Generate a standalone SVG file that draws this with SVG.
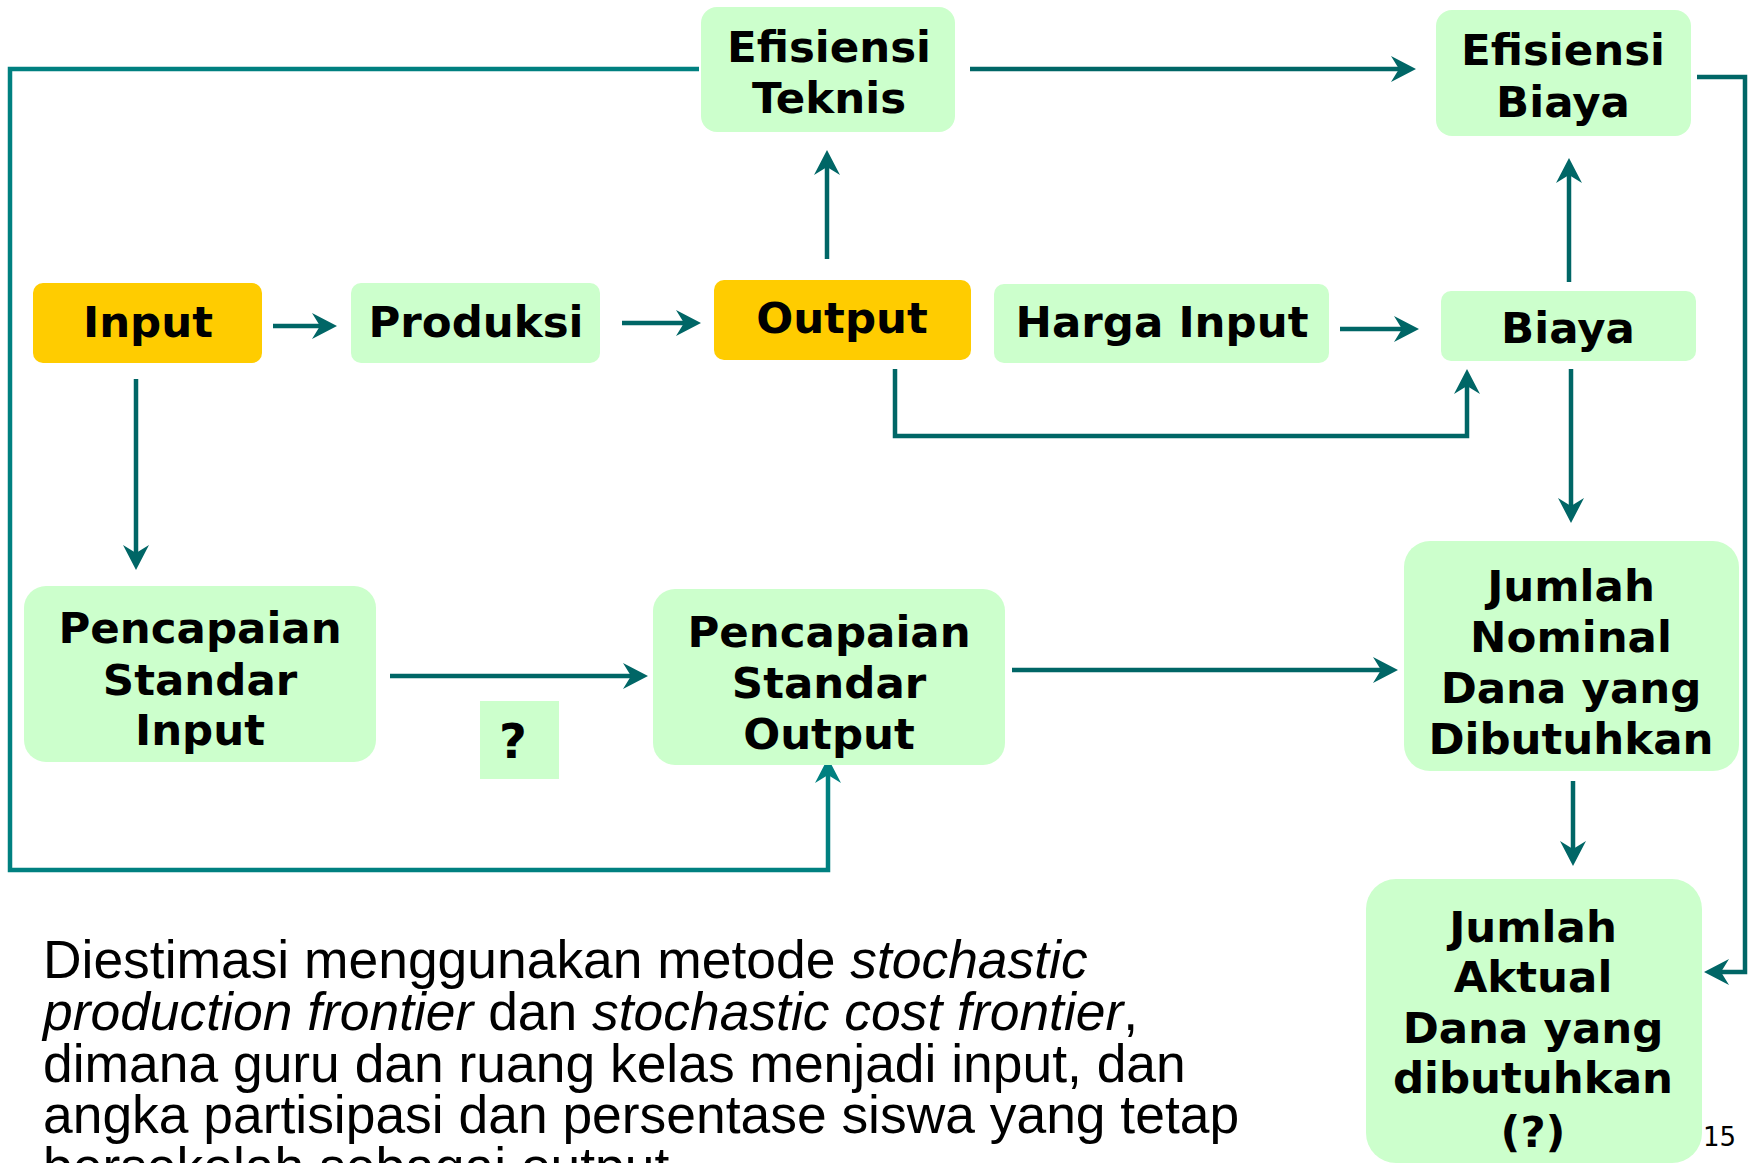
<svg xmlns="http://www.w3.org/2000/svg" width="1748" height="1163" viewBox="0 0 1748 1163">
<style>
.g{fill:#CCFFCC}
.y{fill:#FFCC00}
.t{font-family:"DejaVu Sans",Verdana,sans-serif;font-weight:bold;font-size:43.5px;fill:#000;text-anchor:middle}
.c{fill:none;stroke:#006666;stroke-width:4.5}
.c2{fill:none;stroke:#008080;stroke-width:4.5}
.body{font-family:"Liberation Sans",Arial,sans-serif;font-size:53.4px;fill:#000}
</style>
<defs>
<marker id="ah" markerUnits="userSpaceOnUse" viewBox="-12 -15 30 30" markerWidth="30" markerHeight="30" refX="0" refY="0" orient="auto">
<path d="M15,0 L-10,-13 L-2,0 L-10,13 Z" fill="#006666"/>
</marker>
<marker id="ah2" markerUnits="userSpaceOnUse" viewBox="-12 -15 30 30" markerWidth="30" markerHeight="30" refX="0" refY="0" orient="auto">
<path d="M15,0 L-10,-13 L-2,0 L-10,13 Z" fill="#008080"/>
</marker>
</defs>
<rect width="1748" height="1163" fill="#fff"/>
<g id="connectors">
<line class="c" x1="273" y1="326" x2="322" y2="326" marker-end="url(#ah)"/>
<line class="c" x1="622" y1="323" x2="686" y2="323" marker-end="url(#ah)"/>
<line class="c" x1="827" y1="259" x2="827" y2="165" marker-end="url(#ah)"/>
<line class="c" x1="970" y1="69" x2="1401" y2="69" marker-end="url(#ah)"/>
<line class="c" x1="1340" y1="329" x2="1404" y2="329" marker-end="url(#ah)"/>
<line class="c" x1="1569" y1="282" x2="1569" y2="173" marker-end="url(#ah)"/>
<polyline class="c" points="895,369 895,436 1467,436 1467,384" marker-end="url(#ah)"/>
<line class="c" x1="1571" y1="369" x2="1571" y2="508" marker-end="url(#ah)"/>
<line class="c" x1="136" y1="379" x2="136" y2="555" marker-end="url(#ah)"/>
<line class="c" x1="390" y1="676" x2="633" y2="676" marker-end="url(#ah)"/>
<line class="c" x1="1012" y1="670" x2="1383" y2="670" marker-end="url(#ah)"/>
<line class="c" x1="1573" y1="781" x2="1573" y2="851" marker-end="url(#ah)"/>
<polyline class="c" points="1697,77 1745,77 1745,972 1719,972" marker-end="url(#ah)"/>
<polyline class="c2" points="699,69 10,69 10,870 828,870 828,773" marker-end="url(#ah2)"/>
</g>
<g id="efisiensi-teknis">
<rect class="g" x="701" y="7" width="254" height="125" rx="16"/>
<text class="t" x="829" y="62">Efisiensi</text>
<text class="t" x="829" y="113">Teknis</text>
</g>
<g id="efisiensi-biaya">
<rect class="g" x="1436" y="10" width="255" height="126" rx="16"/>
<text class="t" x="1563" y="65">Efisiensi</text>
<text class="t" x="1563" y="117">Biaya</text>
</g>
<g id="input">
<rect class="y" x="33" y="283" width="229" height="80" rx="10"/>
<text class="t" x="148" y="337">Input</text>
</g>
<g id="produksi">
<rect class="g" x="351" y="283" width="249" height="80" rx="10"/>
<text class="t" x="476" y="337">Produksi</text>
</g>
<g id="output">
<rect class="y" x="714" y="280" width="257" height="80" rx="10"/>
<text class="t" x="842" y="333">Output</text>
</g>
<g id="harga-input">
<rect class="g" x="994" y="284" width="335" height="79" rx="10"/>
<text class="t" x="1162" y="337">Harga Input</text>
</g>
<g id="biaya">
<rect class="g" x="1441" y="291" width="255" height="70" rx="10"/>
<text class="t" x="1568" y="343">Biaya</text>
</g>
<g id="pencapaian-standar-input">
<rect class="g" x="24" y="586" width="352" height="176" rx="22"/>
<text class="t" x="200" y="643">Pencapaian</text>
<text class="t" x="200" y="695">Standar</text>
<text class="t" x="200" y="745">Input</text>
</g>
<g id="tanya">
<rect class="g" x="480" y="701" width="79" height="78"/>
<text class="t" x="513" y="758" style="font-size:48px">?</text>
</g>
<g id="pencapaian-standar-output">
<rect class="g" x="653" y="589" width="352" height="176" rx="22"/>
<text class="t" x="829" y="647">Pencapaian</text>
<text class="t" x="829" y="698">Standar</text>
<text class="t" x="829" y="749">Output</text>
</g>
<g id="jumlah-nominal">
<rect class="g" x="1404" y="541" width="335" height="230" rx="26"/>
<text class="t" x="1571" y="601">Jumlah</text>
<text class="t" x="1571" y="652">Nominal</text>
<text class="t" x="1571" y="703">Dana yang</text>
<text class="t" x="1571" y="754">Dibutuhkan</text>
</g>
<g id="jumlah-aktual">
<rect class="g" x="1366" y="879" width="336" height="284" rx="30"/>
<text class="t" x="1533" y="942">Jumlah</text>
<text class="t" x="1533" y="992">Aktual</text>
<text class="t" x="1533" y="1043">Dana yang</text>
<text class="t" x="1533" y="1093">dibutuhkan</text>
<text class="t" x="1533" y="1147">(?)</text>
</g>
<g id="caption">
<text class="body" x="43" y="978">Diestimasi menggunakan metode <tspan font-style="italic">stochastic</tspan></text>
<text class="body" x="43" y="1030"><tspan font-style="italic">production frontier</tspan> dan <tspan font-style="italic">stochastic cost frontier</tspan>,</text>
<text class="body" x="43" y="1082">dimana guru dan ruang kelas menjadi input, dan</text>
<text class="body" x="43" y="1133">angka partisipasi dan persentase siswa yang tetap</text>
<text class="body" x="43" y="1185">bersekolah sebagai output</text>
</g>
<text x="1703" y="1146" font-family="DejaVu Sans,Verdana,sans-serif" font-size="26">15</text>
</svg>
